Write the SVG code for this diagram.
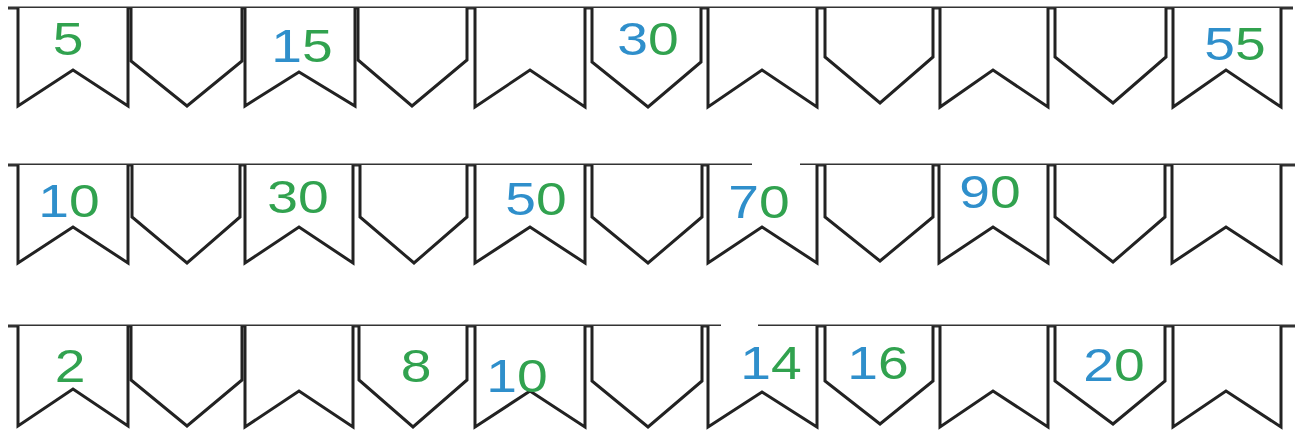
<svg xmlns="http://www.w3.org/2000/svg" width="1298" height="439" viewBox="0 0 1298 439">
<style>
.f{fill:#fff;stroke:#222;stroke-width:3;stroke-linejoin:miter}
.s{stroke:#333;stroke-width:3}
.t{font-family:"Liberation Sans",Arial,sans-serif;font-size:46px;text-anchor:middle}
.b{fill:#2f8fcb}
.g{fill:#31a24f}
</style>
<rect width="1298" height="439" fill="#fff"/>
<g id="strings">
<line class="s" x1="8" y1="8" x2="1293" y2="8"/>
<line class="s" x1="8" y1="165" x2="1295" y2="165"/>
<line class="s" x1="8" y1="326" x2="1295" y2="326"/>
<rect x="752" y="162" width="48" height="6" fill="#fff"/>
<rect x="721" y="323" width="37" height="6" fill="#fff"/>
</g>
<g id="row1">
<g id="r1f1"><path class="f" d="M18,8 V106 L73,70 L128,106 V8"/><text class="t g" transform="translate(68,55) scale(1.2,1)">5</text></g>
<g id="r1f2"><path class="f" d="M131,8 V61 L187,106 L242,61 V8"/></g>
<g id="r1f3"><path class="f" d="M245,8 V106 L299,72 L355,106 V8"/><text class="t" transform="translate(302,62) scale(1.2,1)"><tspan class="b">1</tspan><tspan class="g">5</tspan></text></g>
<g id="r1f4"><path class="f" d="M358,8 V60 L412,106 L467,60 V8"/></g>
<g id="r1f5"><path class="f" d="M475,8 V107 L530,70 L585,107 V8"/></g>
<g id="r1f6"><path class="f" d="M592,8 V62 L648,107 L701,62 V8"/><text class="t" transform="translate(648,55) scale(1.2,1)"><tspan class="b">3</tspan><tspan class="g">0</tspan></text></g>
<g id="r1f7"><path class="f" d="M708,8 V107 L762,70 L817,107 V8"/></g>
<g id="r1f8"><path class="f" d="M825,8 V57 L880,103 L933,57 V8"/></g>
<g id="r1f9"><path class="f" d="M940,8 V107 L993,70 L1048,107 V8"/></g>
<g id="r1f10"><path class="f" d="M1055,8 V57 L1113,103 L1166,57 V8"/></g>
<g id="r1f11"><path class="f" d="M1173,8 V107 L1226,70 L1281,107 V8"/><text class="t" transform="translate(1235,60) scale(1.2,1)"><tspan class="b">5</tspan><tspan class="g">5</tspan></text></g>
</g>
<g id="row2">
<g id="r2f1"><path class="f" d="M18,165 V263 L73,227 L128,263 V165"/><text class="t" transform="translate(69,217) scale(1.2,1)"><tspan class="b">1</tspan><tspan class="g">0</tspan></text></g>
<g id="r2f2"><path class="f" d="M132,165 V217 L187,263 L240,217 V165"/></g>
<g id="r2f3"><path class="f" d="M245,165 V263 L299,227 L353,263 V165"/><text class="t g" transform="translate(298,213) scale(1.2,1)">30</text></g>
<g id="r2f4"><path class="f" d="M360,165 V217 L414,263 L467,217 V165"/></g>
<g id="r2f5"><path class="f" d="M475,165 V263 L530,227 L585,263 V165"/><text class="t" transform="translate(536,215) scale(1.2,1)"><tspan class="b">5</tspan><tspan class="g">0</tspan></text></g>
<g id="r2f6"><path class="f" d="M592,165 V217 L648,263 L702,217 V165"/></g>
<g id="r2f7"><path class="f" d="M708,165 V263 L762,227 L817,263 V165"/><text class="t" transform="translate(759,218) scale(1.2,1)"><tspan class="b">7</tspan><tspan class="g">0</tspan></text></g>
<g id="r2f8"><path class="f" d="M825,165 V217 L880,261 L933,217 V165"/></g>
<g id="r2f9"><path class="f" d="M939,165 V263 L993,227 L1048,263 V165"/><text class="t" transform="translate(990,208) scale(1.2,1)"><tspan class="b">9</tspan><tspan class="g">0</tspan></text></g>
<g id="r2f10"><path class="f" d="M1055,165 V217 L1113,262 L1165,217 V165"/></g>
<g id="r2f11"><path class="f" d="M1172,165 V263 L1226,227 L1281,263 V165"/></g>
</g>
<g id="row3">
<g id="r3f1"><path class="f" d="M18,326 V426 L73,389 L128,426 V326"/><text class="t g" transform="translate(70,382) scale(1.2,1)">2</text></g>
<g id="r3f2"><path class="f" d="M131,326 V380 L187,426 L242,380 V326"/></g>
<g id="r3f3"><path class="f" d="M245,326 V427 L299,391 L353,427 V326"/></g>
<g id="r3f4"><path class="f" d="M359,326 V380 L413,427 L467,380 V326"/><text class="t g" transform="translate(416,382) scale(1.2,1)">8</text></g>
<g id="r3f5"><path class="f" d="M475,326 V427 L530,391 L585,427 V326"/><text class="t" transform="translate(517,392) scale(1.2,1)"><tspan class="b">1</tspan><tspan class="g">0</tspan></text></g>
<g id="r3f6"><path class="f" d="M592,326 V381 L648,427 L702,381 V326"/></g>
<g id="r3f7"><path class="f" d="M708,326 V427 L762,392 L817,427 V326"/><text class="t" transform="translate(771,379) scale(1.2,1)"><tspan class="b">1</tspan><tspan class="g">4</tspan></text></g>
<g id="r3f8"><path class="f" d="M825,326 V381 L880,424 L933,381 V326"/><text class="t" transform="translate(878,379) scale(1.2,1)"><tspan class="b">1</tspan><tspan class="g">6</tspan></text></g>
<g id="r3f9"><path class="f" d="M940,326 V427 L993,391 L1048,427 V326"/></g>
<g id="r3f10"><path class="f" d="M1055,326 V381 L1113,424 L1165,381 V326"/><text class="t" transform="translate(1114,381) scale(1.2,1)"><tspan class="b">2</tspan><tspan class="g">0</tspan></text></g>
<g id="r3f11"><path class="f" d="M1173,326 V427 L1226,391 L1281,427 V326"/></g>
</g>
</svg>
